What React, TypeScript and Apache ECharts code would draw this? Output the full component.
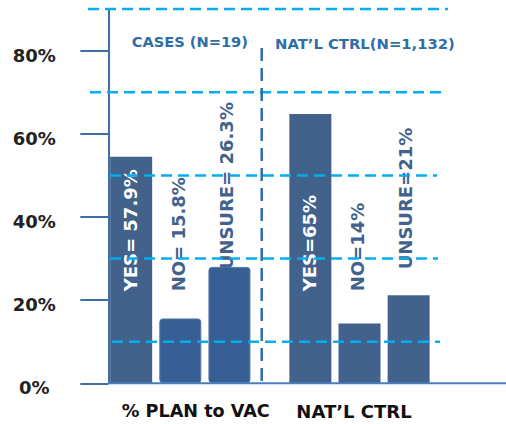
import React, { useEffect, useRef } from "react";
import * as echarts from "echarts";

// ---- data ----
const groups = ["% PLAN to VAC", "NAT\u2019L CTRL"];
const yesValues = [54.5, 64.8];
const noValues = [15.6, 14.4];
const unsureValues = [28.0, 21.2];
const yesLabels = ["YES= 57.9%", "YES=65%"];
const noLabels = ["NO= 15.8%", "NO=14%"];
const unsureLabels = ["UNSURE= 26.3%", "UNSURE=21%"];
const yTickValues = [0, 20, 40, 60, 80];
const refLineValues = [90, 70, 50, 30, 10];
const panelTitles = ["CASES (N=19)", "NAT\u2019L CTRL(N=1,132)"];

// ---- layout / style ----
const FONT = '"DejaVu Sans", "Liberation Sans", Arial, sans-serif';
const BAR_MAIN = "#42628C";
const BAR_ALT = "#375F93";
const AXIS_BLUE = "#3D6FA8";
const CYAN = "#00AEEF";
const refLineExtents = [
  [88, 448],
  [90, 445],
  [110, 437],
  [110, 438],
  [112, 440],
];

export default function App() {
  const ref = useRef<HTMLDivElement>(null);

  useEffect(() => {
    if (!ref.current) return;
    const chart = echarts.init(ref.current, undefined, { renderer: "svg" });

    const labelBase = (color: string) => ({
      show: true,
      rotate: 90,
      align: "left",
      verticalAlign: "middle",
      position: ["50%", "100%"],
      fontFamily: FONT,
      fontSize: 18,
      fontWeight: "bold",
      color,
    });

    const altStyle = {
      color: BAR_ALT,
      borderColor: "#5479AA",
      borderWidth: 1,
      borderRadius: 3,
    };

    const option: any = {
      animation: false,
      grid: { left: 90.7, right: 56.9, top: 9.1, bottom: 40.7 },
      xAxis: {
        type: "category",
        data: groups,
        axisLine: { show: false },
        axisTick: { show: false },
        axisLabel: {
          margin: 28,
          verticalAlign: "middle",
          formatter: (v: string, i: number) => (i === 0 ? `{a|${v}}` : `{b|${v}}`),
          rich: {
            a: {
              padding: [0, 0, 0, 31],
              fontFamily: FONT,
              fontSize: 17.6,
              fontWeight: "bold",
              color: "#111",
            },
            b: {
              padding: [0, 11, 0, 0],
              fontFamily: FONT,
              fontSize: 18,
              fontWeight: "bold",
              color: "#111",
            },
          },
        },
      },
      yAxis: {
        type: "value",
        min: 0,
        max: 90,
        interval: 10,
        offset: -17.6,
        splitLine: { show: false },
        axisLine: { show: true, lineStyle: { color: AXIS_BLUE, width: 2 } },
        axisTick: {
          show: true,
          inside: false,
          length: 28,
          customValues: yTickValues,
          lineStyle: { color: AXIS_BLUE, width: 2 },
        },
        axisLabel: {
          customValues: yTickValues,
          margin: 74,
          align: "center",
          verticalAlign: "middle",
          formatter: (v: number) => `{v|${v}%}`,
          rich: {
            v: {
              padding: [9, 0, 0, 0],
              fontFamily: FONT,
              fontSize: 18,
              fontWeight: "bold",
              color: "#222",
            },
          },
        },
      },
      series: [
        {
          name: "YES",
          type: "bar",
          barWidth: 42,
          barGap: "17%",
          data: yesValues.map((v) => ({ value: v, itemStyle: { color: BAR_MAIN } })),
          label: {
            ...labelBase("#ffffff"),
            offset: [92, -1],
            formatter: (p: any) => yesLabels[p.dataIndex],
          },
        },
        {
          name: "NO",
          type: "bar",
          barWidth: 42,
          barGap: "17%",
          data: noValues.map((v, i) => ({
            value: v,
            itemStyle: i === 0 ? altStyle : { color: BAR_MAIN },
          })),
          label: {
            ...labelBase(BAR_MAIN),
            offset: [92, -2],
            formatter: (p: any) => noLabels[p.dataIndex],
          },
        },
        {
          name: "UNSURE",
          type: "bar",
          barWidth: 42,
          barGap: "17%",
          data: unsureValues.map((v, i) => ({
            value: v,
            itemStyle: i === 0 ? altStyle : { color: BAR_MAIN },
          })),
          label: {
            ...labelBase(BAR_MAIN),
            offset: [114, -2.7],
            formatter: (p: any) => unsureLabels[p.dataIndex],
          },
        },
      ],
    };

    chart.setOption(option);

    const yPix = (v: number) => chart.convertToPixel({ yAxisIndex: 0 }, v) as number;
    const base = yPix(0);
    const elements: any[] = [];

    refLineValues.forEach((v, i) => {
      const y = yPix(v);
      elements.push({
        type: "line",
        z: 100,
        shape: { x1: refLineExtents[i][0], y1: y, x2: refLineExtents[i][1], y2: y },
        style: { stroke: CYAN, lineWidth: 2.5, lineDash: [11, 6] },
      });
    });

    // separator between panels
    elements.push({
      type: "line",
      z: 100,
      shape: { x1: 261.7, y1: 48, x2: 261.7, y2: base },
      style: { stroke: "#2F6EA8", lineWidth: 2.5, lineDash: [13, 7] },
    });

    // baseline extending to the right edge
    elements.push({
      type: "line",
      z: 90,
      shape: { x1: 108.3, y1: base, x2: 506, y2: base },
      style: { stroke: "#4A7EBB", lineWidth: 2 },
    });

    elements.push({
      type: "text",
      z: 100,
      x: 131.7,
      y: 41.7,
      style: {
        text: panelTitles[0],
        fontFamily: FONT,
        fontSize: 14.6,
        fontWeight: "bold",
        fill: "#2F6EA7",
        align: "left",
        verticalAlign: "middle",
      },
    });
    elements.push({
      type: "text",
      z: 100,
      x: 275,
      y: 43.3,
      style: {
        text: panelTitles[1],
        fontFamily: FONT,
        fontSize: 14.8,
        fontWeight: "bold",
        fill: "#2F6EA7",
        align: "left",
        verticalAlign: "middle",
      },
    });

    chart.setOption({ graphic: { elements } });

    return () => chart.dispose();
  }, []);

  return (
    <div
      ref={ref}
      style={{ position: "fixed", left: 0, top: 0, width: 506, height: 424, background: "#fff" }}
    />
  );
}
